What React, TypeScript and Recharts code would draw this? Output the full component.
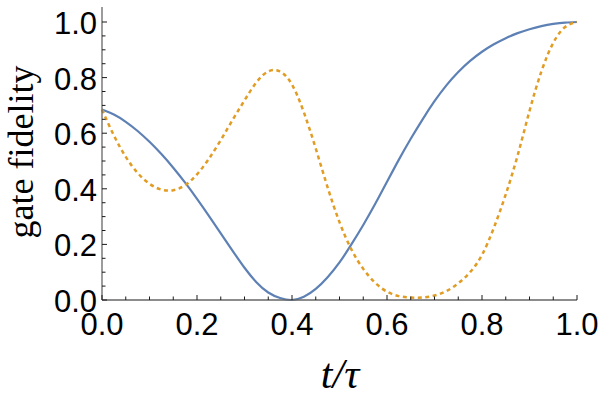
import { Label, Line, LineChart, XAxis, YAxis } from 'recharts';

// t / tau sample points
const times = [
  0, 0.025, 0.05, 0.075, 0.1, 0.125, 0.15, 0.175, 0.2, 0.225, 0.25, 0.275, 0.3, 0.325,
  0.35, 0.375, 0.4, 0.425, 0.45, 0.475, 0.5, 0.525, 0.55, 0.575, 0.6, 0.625, 0.65, 0.675,
  0.7, 0.725, 0.75, 0.775, 0.8, 0.825, 0.85, 0.875, 0.9, 0.925, 0.95, 0.975, 1.0,
];

// solid blue curve
const fidelitySolid = [
  0.685, 0.667, 0.641, 0.608, 0.569, 0.525, 0.476, 0.422, 0.364, 0.303, 0.24, 0.177, 0.116, 0.064,
  0.027, 0.007, 0.0, 0.012, 0.04, 0.082, 0.135, 0.2, 0.27, 0.345, 0.425, 0.505, 0.58, 0.65,
  0.715, 0.772, 0.82, 0.86, 0.893, 0.92, 0.942, 0.96, 0.974, 0.985, 0.993, 0.998, 1.0,
];

// dashed orange curve
const fidelityDashed = [
  0.685, 0.592, 0.515, 0.457, 0.418, 0.397, 0.395, 0.413, 0.452, 0.508, 0.575, 0.648, 0.718, 0.783,
  0.822, 0.822, 0.775, 0.675, 0.545, 0.405, 0.28, 0.182, 0.112, 0.062, 0.03, 0.014, 0.009, 0.009,
  0.016, 0.032, 0.06, 0.1, 0.162, 0.26, 0.38, 0.52, 0.68, 0.822, 0.925, 0.982, 1.0,
];

const majorTicks = [0, 0.2, 0.4, 0.6, 0.8, 1.0];
const allTicks = [
  0, 0.05, 0.1, 0.15, 0.2, 0.25, 0.3, 0.35, 0.4, 0.45, 0.5, 0.55, 0.6, 0.65, 0.7, 0.75, 0.8,
  0.85, 0.9, 0.95, 1.0,
];

const data = times.map((t, i) => ({ t, solid: fidelitySolid[i], dashed: fidelityDashed[i] }));

const SANS = '"Liberation Sans", Arial, Helvetica, sans-serif';
const SERIF = '"Liberation Serif", "Times New Roman", serif';
const FRAME = '#666666';
const TICK = '#1a1a1a';

const isMajor = (v: number) => majorTicks.some((m) => Math.abs(m - v) < 1e-6);
const len = (v: number) => (isMajor(v) ? 5 : 3.5);

const BottomTick = ({ x, y, payload }: any) => {
  const v = payload.value;
  return (
    <g>
      <line x1={x} y1={y} x2={x} y2={y - len(v)} stroke={TICK} strokeWidth={1} />
      {isMajor(v) && (
        <text x={x} y={y + 35} textAnchor="middle" fontSize={31} fontFamily={SANS} fill="#000">
          {v.toFixed(1)}
        </text>
      )}
    </g>
  );
};

const TopTick = ({ x, y, payload }: any) => (
  <line x1={x} y1={y} x2={x} y2={y + len(payload.value)} stroke={TICK} strokeWidth={1} />
);

const LeftTick = ({ x, y, payload }: any) => {
  const v = payload.value;
  return (
    <g>
      <line x1={x} y1={y} x2={x + len(v)} y2={y} stroke={TICK} strokeWidth={1} />
      {isMajor(v) && (
        <text x={x - 5} y={y + 12} textAnchor="end" fontSize={31} fontFamily={SANS} fill="#000">
          {v.toFixed(1)}
        </text>
      )}
    </g>
  );
};

const RightTick = ({ x, y, payload }: any) => (
  <line x1={x} y1={y} x2={x - len(payload.value)} y2={y} stroke={TICK} strokeWidth={1} />
);

const XTitle = () => (
  <text x={340} y={388} textAnchor="middle" fontSize={42} fontStyle="italic" fontFamily={SERIF} fill="#000">
    t/τ
  </text>
);

const YTitle = () => (
  <text
    x={33}
    y={152}
    transform="rotate(-90 33 152)"
    textAnchor="middle"
    fontSize={36}
    fontFamily={SERIF}
    fill="#000"
  >
    gate fidelity
  </text>
);

export default function App() {
  return (
    <div style={{ position: 'absolute', left: 0, top: 0, background: '#fff' }}>
      <LineChart width={600} height={396} data={data} margin={{ top: 7, right: 23, bottom: 0, left: 0 }}>
        <XAxis
          xAxisId="b"
          dataKey="t"
          type="number"
          domain={[0, 1]}
          ticks={allTicks}
          interval={0}
          height={96}
          tickSize={0}
          tickMargin={0}
          tickLine={false}
          tick={<BottomTick />}
          axisLine={{ stroke: FRAME, strokeWidth: 1.3 }}
        >
          <Label content={<XTitle />} />
        </XAxis>
        <XAxis
          xAxisId="t"
          orientation="top"
          dataKey="t"
          type="number"
          domain={[0, 1]}
          ticks={allTicks}
          interval={0}
          height={0}
          tickSize={0}
          tickMargin={0}
          tickLine={false}
          tick={<TopTick />}
          axisLine={{ stroke: FRAME, strokeWidth: 1.3 }}
        />
        <YAxis
          yAxisId="l"
          type="number"
          domain={[0, 1.054]}
          ticks={allTicks}
          interval={0}
          width={102}
          tickSize={0}
          tickMargin={0}
          tickLine={false}
          tick={<LeftTick />}
          axisLine={{ stroke: FRAME, strokeWidth: 1.3 }}
        >
          <Label content={<YTitle />} />
        </YAxis>
        <YAxis
          yAxisId="r"
          orientation="right"
          type="number"
          domain={[0, 1.054]}
          ticks={allTicks}
          interval={0}
          width={0}
          tickSize={0}
          tickMargin={0}
          tickLine={false}
          tick={<RightTick />}
          axisLine={{ stroke: FRAME, strokeWidth: 1.3 }}
        />
        <Line
          xAxisId="b"
          yAxisId="l"
          type="natural"
          dataKey="solid"
          stroke="#5E81B5"
          strokeWidth={2.2}
          dot={false}
          isAnimationActive={false}
        />
        <Line
          xAxisId="b"
          yAxisId="l"
          type="natural"
          dataKey="dashed"
          stroke="#E19C24"
          strokeWidth={2.5}
          strokeDasharray="4 3.5"
          dot={false}
          isAnimationActive={false}
        />
      </LineChart>
    </div>
  );
}
